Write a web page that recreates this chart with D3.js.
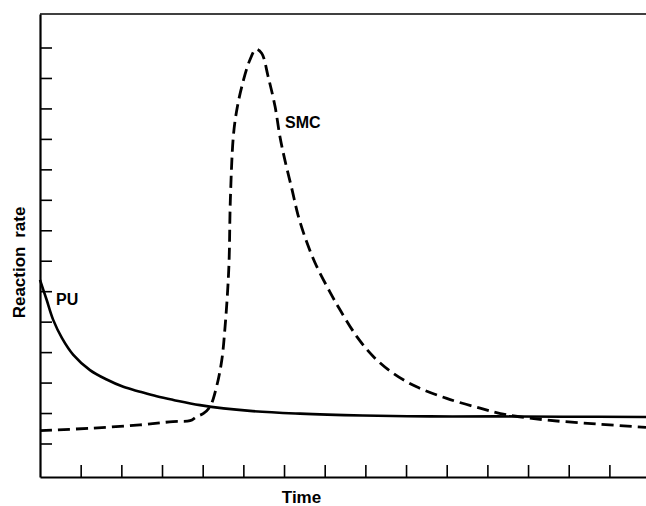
<!DOCTYPE html>
<html>
<head>
<meta charset="utf-8">
<script src="https://cdn.jsdelivr.net/npm/d3@7"></script>
<style>
  body { margin: 0; background: #fff; }
  text { font-family: "Liberation Sans", Arial, sans-serif; fill: #000; }
</style>
</head>
<body>
<div id="chart"></div>
<script>
// values (arbitrary units, one tick = 1)
const xTicks = [1, 2, 3, 4, 5, 6, 7, 8, 9, 10, 11, 12, 13, 14];
const yTicks = [1, 2, 3, 4, 5, 6, 7, 8, 9, 10, 11, 12, 13, 14];

const puTime = [0, 0.165, 0.327, 0.541, 0.819, 1.229, 1.64, 2.048, 2.459, 2.869, 3.278, 3.934, 5.163, 6.393,
                7.94, 9.59, 11.24, 12.86, 14.9];
const puRate = [6.37, 5.71, 5.05, 4.46, 3.91, 3.41, 3.10, 2.86, 2.70, 2.55, 2.43, 2.26, 2.07, 1.98,
                1.92, 1.89, 1.89, 1.88, 1.87];

const smcTime = [0, 1.23, 2.46, 3.27, 3.69, 3.85, 4.02, 4.18, 4.34, 4.47, 4.55, 4.61, 4.65, 4.68, 4.753, 4.83, 4.96, 5.16,
                 5.31, 5.45, 5.61, 5.78, 5.90, 6.02, 6.20, 6.344, 6.54, 6.787, 7.13, 7.38, 7.79, 8.20, 8.69, 9.26, 10.0, 10.82,
                 11.48, 12.46, 13.69, 14.9];
const smcRate = [1.42, 1.50, 1.61, 1.72, 1.75, 1.88, 1.99, 2.21, 2.86, 3.74, 4.83, 5.94, 7.02, 8.99, 11.07, 11.88, 12.71, 13.59,
                 13.94, 13.81, 13.04, 12.06, 11.07, 10.31, 9.32, 8.50, 7.68, 6.86, 5.97, 5.38, 4.51, 3.85, 3.30, 2.86, 2.48, 2.16,
                 1.94, 1.77, 1.64, 1.53];

const labels = ["PU", "SMC"];
const xTitle = "Time";
const yTitle = "Reaction rate";

var width = 646;
var height = 506;

var svg = d3.select("#chart").append("svg")
    .attr("width", width)
    .attr("height", height);

const x = d3.scaleLinear()
    .domain([0, 14.9])
    .range([40, 646]);

const y = d3.scaleLinear()
    .domain([-0.1, 15.1])
    .range([477, 14]);

// top frame line
svg.append("line")
    .attr("x1", x(0)).attr("x2", x(14.9))
    .attr("y1", y(15.1)).attr("y2", y(15.1))
    .attr("stroke", "#000")
    .attr("stroke-width", 1.6);

const xAxis = svg.append("g")
    .attr("transform", `translate(0,${y(-0.1)})`)
    .call(d3.axisBottom(x).tickValues(xTicks).tickSizeInner(-12).tickSizeOuter(0).tickFormat(""));

const yAxis = svg.append("g")
    .attr("transform", `translate(${x(0)},0)`)
    .call(d3.axisLeft(y).tickValues(yTicks).tickSizeInner(-12).tickSizeOuter(0).tickFormat(""));

[xAxis, yAxis].forEach(g => {
    g.select(".domain").attr("stroke", "#000").attr("stroke-width", 2.2);
    g.selectAll(".tick line").attr("stroke", "#000").attr("stroke-width", 1.6);
});

const line = d3.line()
    .x(d => x(d[0]))
    .y(d => y(d[1]))
    .curve(d3.curveCatmullRom.alpha(0.5));

svg.append("path")
    .datum(d3.zip(puTime, puRate))
    .attr("fill", "none")
    .attr("stroke", "#000")
    .attr("stroke-width", 2.6)
    .attr("d", line);

svg.append("path")
    .datum(d3.zip(smcTime, smcRate))
    .attr("fill", "none")
    .attr("stroke", "#000")
    .attr("stroke-width", 2.8)
    .attr("stroke-dasharray", "12,6")
    .attr("d", line);

// curve labels
svg.append("text")
    .attr("x", 56)
    .attr("y", 305)
    .style("font-size", "16px")
    .style("font-weight", "bold")
    .text(labels[0]);

svg.append("text")
    .attr("x", 285)
    .attr("y", 128)
    .style("font-size", "16px")
    .style("font-weight", "bold")
    .text(labels[1]);

// axis titles
svg.append("text")
    .attr("x", 301.5)
    .attr("y", 503)
    .attr("text-anchor", "middle")
    .style("font-size", "17px")
    .style("font-weight", "bold")
    .text(xTitle);

svg.append("text")
    .attr("transform", "translate(25,262.5) rotate(-90)")
    .attr("text-anchor", "middle")
    .style("font-size", "17px")
    .style("font-weight", "bold")
    .style("word-spacing", "4px")
    .text(yTitle);
</script>
</body>
</html>
